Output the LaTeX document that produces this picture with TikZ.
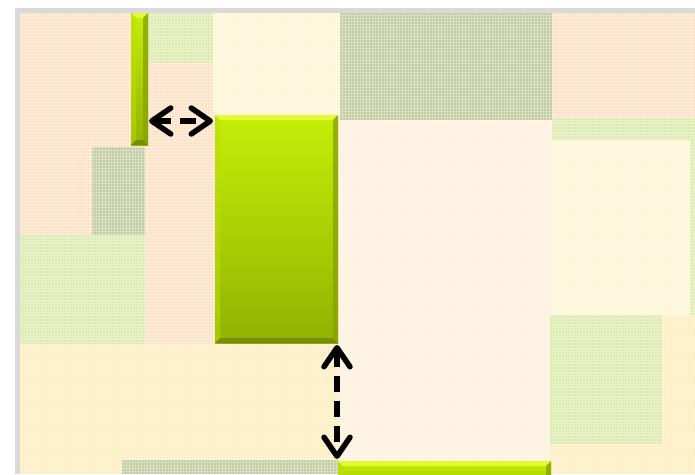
\documentclass[tikz,border=0pt]{standalone}
\usetikzlibrary{arrows.meta,calc,patterns}
\definecolor{frameGray}{RGB}{217,217,217}
\definecolor{paleBg}{RGB}{255,241,222}
\definecolor{peach}{RGB}{254,226,198}
\definecolor{ltGreen}{RGB}{221,235,176}
\definecolor{grGreen}{RGB}{196,205,164}
\definecolor{cream}{RGB}{255,246,214}
\definecolor{ltYellow}{RGB}{255,238,192}
\definecolor{barTop}{RGB}{198,238,8}
\definecolor{barBot}{RGB}{146,178,0}
\definecolor{bevTop}{RGB}{226,252,50}
\definecolor{bevLeft}{RGB}{186,222,10}
\definecolor{bevRight}{RGB}{136,164,0}
\definecolor{bevBot}{RGB}{118,142,0}
\tikzset{
  patch/.style={fill=#1, draw=none},
  bevelbar/.style={draw=none, inner sep=0pt, outer sep=0pt, anchor=north west,
    top color=barTop, bottom color=barBot,
    path picture={
      \coordinate (pNW) at (path picture bounding box.north west);
      \coordinate (pNE) at (path picture bounding box.north east);
      \coordinate (pSW) at (path picture bounding box.south west);
      \coordinate (pSE) at (path picture bounding box.south east);
      \fill[bevTop] (pNW) -- (pNE) -- ([shift={(-5pt,-5pt)}]pNE) -- ([shift={(5pt,-5pt)}]pNW) -- cycle;
      \fill[bevLeft,opacity=0.5] (pNW) -- ([shift={(5pt,-5pt)}]pNW) -- ([shift={(5pt,5pt)}]pSW) -- (pSW) -- cycle;
      \fill[bevRight,opacity=0.8] (pNE) -- ([shift={(-5pt,-5pt)}]pNE) -- ([shift={(-5pt,5pt)}]pSE) -- (pSE) -- cycle;
      \fill[bevBot] (pSW) -- ([shift={(5pt,5pt)}]pSW) -- ([shift={(-5pt,5pt)}]pSE) -- (pSE) -- cycle;
    }},
  dblarrow/.style={line width=5.5pt, dash pattern=on 16pt off 9pt,
    {Straight Barb[length=19pt,width=26pt,round]}-{Straight Barb[length=19pt,width=26pt,round]}}
}
\begin{document}
\begin{tikzpicture}[x=1pt,y=-1pt]
\useasboundingbox (0,0) rectangle (695,474);
\fill[white] (0,0) rectangle (695,474);
\fill[frameGray] (15,8) rectangle (695,474);
\fill[paleBg] (20,13) rectangle (695,474);
% background patches
\fill[patch=peach] (20,13) rectangle (215,344);
\fill[patch=ltGreen] (148,13) rectangle (213,63);
\fill[patch=cream] (213,13) rectangle (340,115);
\fill[patch=grGreen] (92,147) rectangle (145,235);
\fill[patch=ltGreen] (20,235) rectangle (145,344);
\fill[patch=ltYellow] (20,344) rectangle (338,474);
\fill[patch=grGreen] (122,460) rectangle (338,474);
\fill[patch=grGreen] (340,13) rectangle (552,120);
\fill[patch=peach] (552,13) rectangle (695,118);
\fill[patch=ltGreen] (552,118) rectangle (695,140);
\fill[patch=cream] (552,140) rectangle (690,315);
\fill[patch=ltGreen] (690,140) rectangle (695,315);
\fill[patch=ltGreen] (550,315) rectangle (662,444);
\fill[patch=ltYellow] (662,315) rectangle (695,474);
\fill[patch=ltYellow] (550,444) rectangle (662,474);
% fine texture
\fill[pattern=grid, pattern color=white, opacity=0.3] (20,13) rectangle (695,474);
% bars
\node[bevelbar, minimum width=17pt, minimum height=132pt] (smallbar) at (131,13) {};
\node[bevelbar, minimum width=123pt, minimum height=228pt] (bigbar) at (215,115) {};
\node[bevelbar, minimum width=213pt, minimum height=40pt] (botbar) at (338,461) {};
% arrows
\coordinate (hy) at (0,121);
\draw[dblarrow] ([xshift=1pt]smallbar.east |- hy) -- ([xshift=-2pt]bigbar.west |- hy);
\draw[dblarrow] ([shift={(-1pt,-2pt)}]bigbar.south east) -- ([shift={(-1pt,2pt)}]botbar.north west);
\end{tikzpicture}
\end{document}
